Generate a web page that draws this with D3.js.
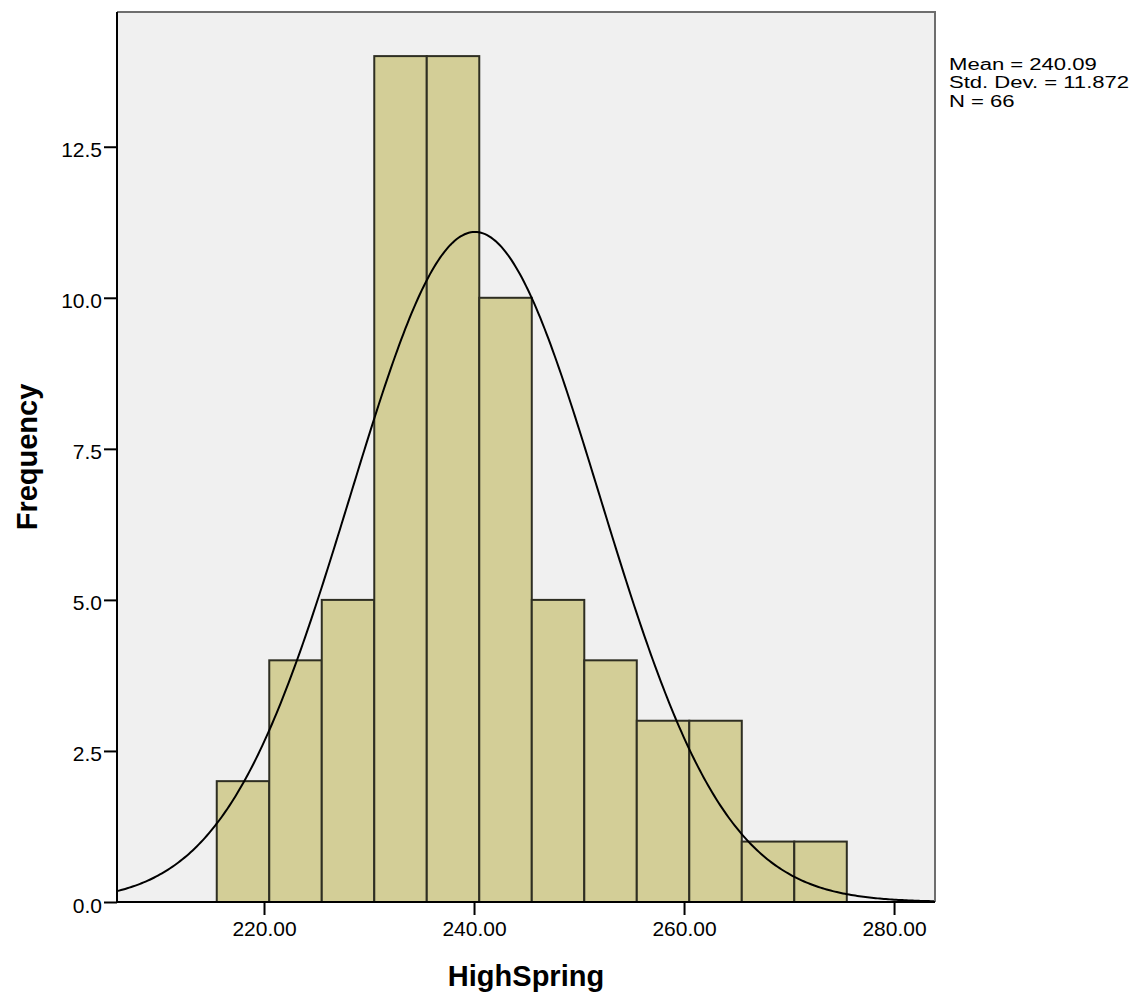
<!DOCTYPE html>
<html>
<head>
<meta charset="utf-8">
<script src="https://cdn.jsdelivr.net/npm/d3@7/dist/d3.min.js"></script>
<style>
  html, body { margin: 0; padding: 0; background: #ffffff; }
  svg { display: block; }
  text { font-family: "Liberation Sans", Arial, sans-serif; fill: #000; }
</style>
</head>
<body>
<svg id="chart" width="1136" height="994"></svg>
<script>
// ---- data ----
const binStarts = [215.5, 220.5, 225.5, 230.5, 235.5, 240.5, 245.5, 250.5, 255.5, 260.5, 265.5, 270.5];
const binWidth = 5;
const counts = [2, 4, 5, 14, 14, 10, 5, 4, 3, 3, 1, 1];
const xTicks = [220, 240, 260, 280];
const yTicks = [0, 2.5, 5, 7.5, 10, 12.5];
const statsMean = 240.09;
const statsSD = 11.872;
const statsN = 66;
const statsLines = ["Mean = 240.09", "Std. Dev. = 11.872", "N = 66"];
const xTitle = "HighSpring";
const yTitle = "Frequency";

// ---- layout ----
const svg = d3.select("#chart");
const plot = { left: 117, right: 935, top: 12, bottom: 902 };

const x = d3.scaleLinear().domain([206, 283.9]).range([plot.left, plot.right]);
const y = d3.scaleLinear().domain([0, 14.73]).range([plot.bottom, plot.top]);

// plot background
svg.append("rect")
  .attr("x", plot.left).attr("y", plot.top)
  .attr("width", plot.right - plot.left).attr("height", plot.bottom - plot.top)
  .attr("fill", "#f0f0f0");

// clip
svg.append("clipPath").attr("id", "clip")
  .append("rect")
  .attr("x", plot.left).attr("y", plot.top)
  .attr("width", plot.right - plot.left).attr("height", plot.bottom - plot.top);

// bars
const bars = binStarts.map((s, i) => ({ x0: s, x1: s + binWidth, c: counts[i] }));
svg.append("g").selectAll("rect").data(bars).join("rect")
  .attr("x", d => x(d.x0))
  .attr("y", d => y(d.c))
  .attr("width", d => x(d.x1) - x(d.x0))
  .attr("height", d => y(0) - y(d.c))
  .attr("fill", "#d3ce97")
  .attr("stroke", "#2e2e22")
  .attr("stroke-width", 2);

// normal curve (from the reported mean, sd and N)
const xs = d3.range(0, 401).map(i => 206 + (283.9 - 206) * i / 400);
const pdf = v => statsN * binWidth / (statsSD * Math.sqrt(2 * Math.PI)) *
  Math.exp(-0.5 * Math.pow((v - statsMean) / statsSD, 2));
svg.append("path")
  .attr("clip-path", "url(#clip)")
  .attr("d", d3.line().x(v => x(v)).y(v => y(pdf(v))).curve(d3.curveLinear)(xs))
  .attr("fill", "none")
  .attr("stroke", "#000")
  .attr("stroke-width", 2);

// frame: top and right
svg.append("path")
  .attr("d", `M${plot.left},${plot.top}H${plot.right}V${plot.bottom}`)
  .attr("fill", "none")
  .attr("stroke", "#6e6e6e")
  .attr("stroke-width", 2);

// axes
const xAxis = d3.axisBottom(x).tickValues(xTicks).tickSize(13).tickSizeOuter(0)
  .tickFormat(d3.format(".2f"));
const gx = svg.append("g").attr("transform", `translate(0,${plot.bottom})`).call(xAxis);
gx.select(".domain").remove();
gx.selectAll(".tick line").attr("stroke", "#000").attr("stroke-width", 2);
gx.selectAll(".tick text")
  .attr("y", 0).attr("dy", 0)
  .attr("transform", "translate(0,34)")
  .style("font-family", "'Liberation Sans', Arial, sans-serif")
  .style("font-size", "21px").attr("fill", "#000");

const yAxis = d3.axisLeft(y).tickValues(yTicks).tickSize(13).tickSizeOuter(0)
  .tickFormat(d3.format(".1f"));
const gy = svg.append("g").attr("transform", `translate(${plot.left},0)`).call(yAxis);
gy.select(".domain").remove();
gy.selectAll(".tick line").attr("stroke", "#000").attr("stroke-width", 2);
gy.selectAll(".tick text")
  .attr("x", -15).attr("dy", 0)
  .attr("transform", "translate(0,10)")
  .style("font-family", "'Liberation Sans', Arial, sans-serif")
  .style("font-size", "21px").attr("fill", "#000");

// axis lines
svg.append("path")
  .attr("d", `M${plot.left},${plot.top}V${plot.bottom}H${plot.right}`)
  .attr("fill", "none").attr("stroke", "#000").attr("stroke-width", 2);

// axis titles
svg.append("text")
  .attr("x", (plot.left + plot.right) / 2).attr("y", 986)
  .attr("text-anchor", "middle")
  .style("font-size", "29px").style("font-weight", "bold")
  .text(xTitle);

svg.append("text")
  .attr("transform", `translate(37,${(plot.top + plot.bottom) / 2}) rotate(-90)`)
  .attr("text-anchor", "middle")
  .style("font-size", "29px").style("font-weight", "bold")
  .text(yTitle);

// stats
svg.append("g").attr("transform", "translate(949,0) scale(1.38,1)")
  .selectAll("text").data(statsLines).join("text")
  .attr("x", 0)
  .attr("y", (d, i) => 70 + i * 18.5)
  .style("font-size", "16px")
  .text(d => d);
</script>
</body>
</html>
